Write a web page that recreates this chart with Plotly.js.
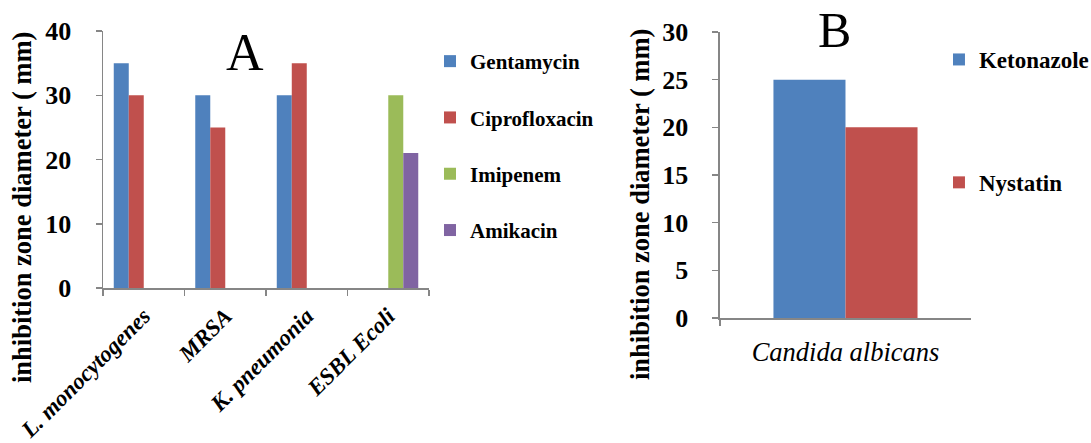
<!DOCTYPE html>
<html>
<head>
<meta charset="utf-8">
<script src="https://cdn.plot.ly/plotly-3.0.1.min.js"></script>
<style>html,body{margin:0;padding:0;background:#fff;}#chart{width:1091px;height:443px;}</style>
</head>
<body>
<div id="chart"></div>
<script>
// Panel A data
const bacteria = ["L. monocytogenes", "MRSA", "K. pneumonia", "ESBL Ecoli"];
const gentamycin = [35, 30, 30, null];
const ciprofloxacin = [30, 25, 35, null];
const imipenem = [null, null, null, 30];
const amikacin = [null, null, null, 21];
// Panel B data
const fungi = ["Candida albicans"];
const ketonazole = [25];
const nystatin = [20];
const yTitleText = "inhibition zone diameter ( mm)";

const FONT = "Liberation Serif";
const AXC = "#868686";
const C = {blue: "#4F81BD", red: "#C0504D", green: "#9BBB59", purple: "#8064A2"};

const traces = [
  {type: "bar", name: "Gentamycin", x: bacteria, y: gentamycin, marker: {color: C.blue}, xaxis: "x", yaxis: "y", legend: "legend", legendgroup: "g1"},
  {type: "bar", name: "Ciprofloxacin", x: bacteria, y: ciprofloxacin, marker: {color: C.red}, xaxis: "x", yaxis: "y", legend: "legend", legendgroup: "g2"},
  {type: "bar", name: "Imipenem", x: bacteria, y: imipenem, marker: {color: C.green}, xaxis: "x", yaxis: "y", legend: "legend", legendgroup: "g3"},
  {type: "bar", name: "Amikacin", x: bacteria, y: amikacin, marker: {color: C.purple}, xaxis: "x", yaxis: "y", legend: "legend", legendgroup: "g4"},
  {type: "bar", name: "Ketonazole", x: fungi, y: ketonazole, marker: {color: C.blue}, xaxis: "x2", yaxis: "y2", legend: "legend2", legendgroup: "h1", offset: -0.287, width: 0.287},
  {type: "bar", name: "Nystatin", x: fungi, y: nystatin, marker: {color: C.red}, xaxis: "x2", yaxis: "y2", legend: "legend2", legendgroup: "h2", offset: 0, width: 0.287}
];

const axisCommon = {showline: true, linecolor: AXC, linewidth: 1.5, showgrid: false, zeroline: false, ticks: "outside", tickcolor: AXC, tickwidth: 1.5, ticklen: 6, fixedrange: true};
const yTitleFont = {family: FONT, size: 26.5, weight: "bold", color: "#000"};

const layout = {
  width: 1091, height: 443,
  margin: {l: 103, r: 120, t: 31, b: 125, pad: 0, autoexpand: false},
  paper_bgcolor: "#fff", plot_bgcolor: "#fff",
  font: {family: FONT, color: "#000"},
  barmode: "group", bargap: 0.264, bargroupgap: 0,
  xaxis: Object.assign({}, axisCommon, {domain: [0, 0.3756], anchor: "y", tickson: "boundaries", tickangle: -45, ticklabelstandoff: 4,
    tickfont: {family: FONT, size: 23, weight: "bold", style: "italic", color: "#000"}}),
  yaxis: Object.assign({}, axisCommon, {domain: [0.1045, 1], anchor: "x", range: [0, 40], dtick: 10, ticklabelstandoff: 19,
    tickfont: {family: FONT, size: 26, weight: "bold", color: "#000"}}),
  xaxis2: Object.assign({}, axisCommon, {domain: [0.7108, 1], anchor: "y2", tickson: "boundaries", ticklabelstandoff: 10,
    tickfont: {family: FONT, size: 26.5, style: "italic", color: "#000"}}),
  yaxis2: Object.assign({}, axisCommon, {domain: [0, 0.9965], anchor: "x2", range: [0, 30], dtick: 5, ticklabelstandoff: 19,
    tickfont: {family: FONT, size: 26, weight: "bold", color: "#000"}}),
  legend: {x: 0.3767, y: 0.9652, xanchor: "left", yanchor: "top", traceorder: "grouped", tracegroupgap: 26,
    font: {family: FONT, size: 21, weight: "bold", color: "#000"}, bgcolor: "rgba(0,0,0,0)"},
  legend2: {x: 0.9631, y: 0.9756, xanchor: "left", yanchor: "top", traceorder: "grouped", tracegroupgap: 90,
    font: {family: FONT, size: 23, weight: "bold", color: "#000"}, bgcolor: "rgba(0,0,0,0)"},
  showlegend: true,
  annotations: [
    {text: "A", xref: "paper", yref: "paper", x: 0.1636, y: 0.9268, xanchor: "center", yanchor: "middle", showarrow: false, font: {family: FONT, size: 52, color: "#000"}},
    {text: "B", xref: "paper", yref: "paper", x: 0.8422, y: 1.0035, xanchor: "center", yanchor: "middle", showarrow: false, font: {family: FONT, size: 50, color: "#000"}},
    {text: yTitleText, xref: "paper", yref: "paper", x: -0.0933, y: 0.3833, xanchor: "center", yanchor: "middle", textangle: -90, showarrow: false, font: yTitleFont},
    {text: yTitleText, xref: "paper", yref: "paper", x: 0.6187, y: 0.3937, xanchor: "center", yanchor: "middle", textangle: -90, showarrow: false, font: yTitleFont}
  ]
};

Plotly.newPlot("chart", traces, layout, {displayModeBar: false, staticPlot: true});
</script>
</body>
</html>
